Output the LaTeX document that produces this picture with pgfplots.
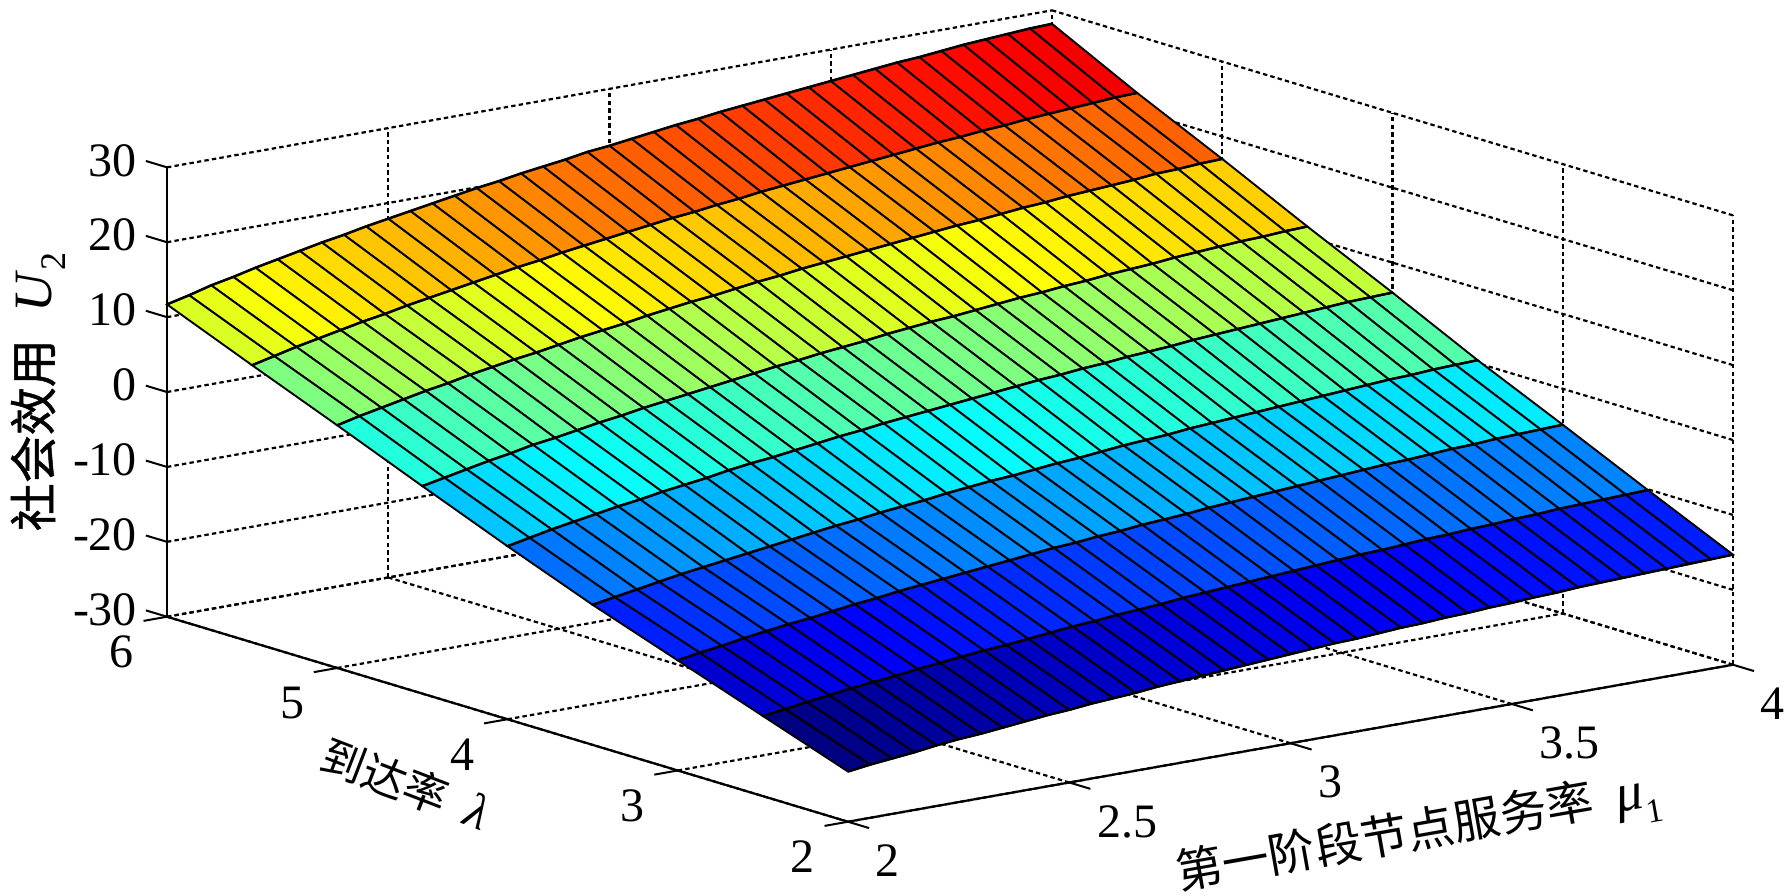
\documentclass[border=0pt]{standalone}
\usepackage{fontspec}
\setmainfont{Liberation Serif}
\newfontfamily\cjk{Noto Sans CJK SC}
\newfontfamily\cjkb[FakeBold=1]{Noto Sans CJK SC}
\usepackage{pgfplots}
\usepackage{pgfplotstable}
\pgfplotsset{compat=1.18}
\pgfplotstableread[row sep=\\]{
x y z\\
2 2 -23.3\\2.05 2 -22.9\\2.1 2 -22.6\\2.15 2 -22.3\\2.2 2 -21.9\\2.25 2 -21.6\\2.3 2 -21.4\\2.35 2 -21.1\\2.4 2 -20.8\\2.45 2 -20.5\\2.5 2 -20.3\\2.55 2 -20.0\\2.6 2 -19.8\\2.65 2 -19.6\\2.7 2 -19.3\\2.75 2 -19.1\\2.8 2 -18.9\\2.85 2 -18.7\\2.9 2 -18.5\\2.95 2 -18.3\\3 2 -18.1\\3.05 2 -17.9\\3.1 2 -17.7\\3.15 2 -17.6\\3.2 2 -17.4\\3.25 2 -17.2\\3.3 2 -17.1\\3.35 2 -16.9\\3.4 2 -16.8\\3.45 2 -16.6\\3.5 2 -16.5\\3.55 2 -16.3\\3.6 2 -16.2\\3.65 2 -16.0\\3.7 2 -15.9\\3.75 2 -15.8\\3.8 2 -15.7\\3.85 2 -15.6\\3.9 2 -15.5\\3.95 2 -15.4\\4 2 -15.3\\
2 2.5 -19.3\\2.05 2.5 -18.9\\2.1 2.5 -18.5\\2.15 2.5 -18.1\\2.2 2.5 -17.7\\2.25 2.5 -17.4\\2.3 2.5 -17.1\\2.35 2.5 -16.7\\2.4 2.5 -16.4\\2.45 2.5 -16.1\\2.5 2.5 -15.8\\2.55 2.5 -15.6\\2.6 2.5 -15.3\\2.65 2.5 -15.0\\2.7 2.5 -14.7\\2.75 2.5 -14.5\\2.8 2.5 -14.2\\2.85 2.5 -14.0\\2.9 2.5 -13.8\\2.95 2.5 -13.5\\3 2.5 -13.3\\3.05 2.5 -13.1\\3.1 2.5 -12.9\\3.15 2.5 -12.7\\3.2 2.5 -12.5\\3.25 2.5 -12.3\\3.3 2.5 -12.1\\3.35 2.5 -11.9\\3.4 2.5 -11.8\\3.45 2.5 -11.6\\3.5 2.5 -11.4\\3.55 2.5 -11.3\\3.6 2.5 -11.1\\3.65 2.5 -11.0\\3.7 2.5 -10.8\\3.75 2.5 -10.7\\3.8 2.5 -10.5\\3.85 2.5 -10.4\\3.9 2.5 -10.3\\3.95 2.5 -10.2\\4 2.5 -10.1\\
2 3 -15.3\\2.05 3 -14.8\\2.1 3 -14.4\\2.15 3 -13.9\\2.2 3 -13.5\\2.25 3 -13.1\\2.3 3 -12.8\\2.35 3 -12.4\\2.4 3 -12.0\\2.45 3 -11.7\\2.5 3 -11.3\\2.55 3 -11.0\\2.6 3 -10.7\\2.65 3 -10.4\\2.7 3 -10.1\\2.75 3 -9.8\\2.8 3 -9.5\\2.85 3 -9.2\\2.9 3 -9.0\\2.95 3 -8.7\\3 3 -8.5\\3.05 3 -8.2\\3.1 3 -8.0\\3.15 3 -7.8\\3.2 3 -7.5\\3.25 3 -7.3\\3.3 3 -7.1\\3.35 3 -6.9\\3.4 3 -6.7\\3.45 3 -6.5\\3.5 3 -6.3\\3.55 3 -6.1\\3.6 3 -5.9\\3.65 3 -5.8\\3.7 3 -5.6\\3.75 3 -5.4\\3.8 3 -5.3\\3.85 3 -5.1\\3.9 3 -5.0\\3.95 3 -4.9\\4 3 -4.8\\
2 3.5 -11.3\\2.05 3.5 -10.8\\2.1 3.5 -10.3\\2.15 3.5 -9.8\\2.2 3.5 -9.3\\2.25 3.5 -8.9\\2.3 3.5 -8.5\\2.35 3.5 -8.1\\2.4 3.5 -7.7\\2.45 3.5 -7.3\\2.5 3.5 -6.9\\2.55 3.5 -6.5\\2.6 3.5 -6.2\\2.65 3.5 -5.8\\2.7 3.5 -5.5\\2.75 3.5 -5.2\\2.8 3.5 -4.8\\2.85 3.5 -4.5\\2.9 3.5 -4.2\\2.95 3.5 -4.0\\3 3.5 -3.7\\3.05 3.5 -3.4\\3.1 3.5 -3.2\\3.15 3.5 -2.9\\3.2 3.5 -2.6\\3.25 3.5 -2.4\\3.3 3.5 -2.2\\3.35 3.5 -1.9\\3.4 3.5 -1.7\\3.45 3.5 -1.5\\3.5 3.5 -1.3\\3.55 3.5 -1.1\\3.6 3.5 -0.9\\3.65 3.5 -0.7\\3.7 3.5 -0.5\\3.75 3.5 -0.3\\3.8 3.5 -0.1\\3.85 3.5 0.0\\3.9 3.5 0.2\\3.95 3.5 0.3\\4 3.5 0.4\\
2 4 -6.9\\2.05 4 -6.3\\2.1 4 -5.7\\2.15 4 -5.2\\2.2 4 -4.7\\2.25 4 -4.2\\2.3 4 -3.8\\2.35 4 -3.3\\2.4 4 -2.9\\2.45 4 -2.5\\2.5 4 -2.0\\2.55 4 -1.6\\2.6 4 -1.3\\2.65 4 -0.9\\2.7 4 -0.5\\2.75 4 -0.1\\2.8 4 0.2\\2.85 4 0.6\\2.9 4 0.9\\2.95 4 1.2\\3 4 1.5\\3.05 4 1.8\\3.1 4 2.1\\3.15 4 2.4\\3.2 4 2.7\\3.25 4 2.9\\3.3 4 3.2\\3.35 4 3.4\\3.4 4 3.7\\3.45 4 3.9\\3.5 4 4.1\\3.55 4 4.4\\3.6 4 4.6\\3.65 4 4.8\\3.7 4 5.0\\3.75 4 5.2\\3.8 4 5.4\\3.85 4 5.6\\3.9 4 5.8\\3.95 4 5.9\\4 4 6.0\\
2 4.5 -2.3\\2.05 4.5 -1.7\\2.1 4.5 -1.1\\2.15 4.5 -0.5\\2.2 4.5 0.0\\2.25 4.5 0.6\\2.3 4.5 1.0\\2.35 4.5 1.5\\2.4 4.5 2.0\\2.45 4.5 2.4\\2.5 4.5 2.9\\2.55 4.5 3.3\\2.6 4.5 3.7\\2.65 4.5 4.1\\2.7 4.5 4.5\\2.75 4.5 4.9\\2.8 4.5 5.3\\2.85 4.5 5.6\\2.9 4.5 6.0\\2.95 4.5 6.3\\3 4.5 6.6\\3.05 4.5 7.0\\3.1 4.5 7.3\\3.15 4.5 7.6\\3.2 4.5 7.8\\3.25 4.5 8.1\\3.3 4.5 8.4\\3.35 4.5 8.7\\3.4 4.5 8.9\\3.45 4.5 9.2\\3.5 4.5 9.4\\3.55 4.5 9.7\\3.6 4.5 9.9\\3.65 4.5 10.1\\3.7 4.5 10.4\\3.75 4.5 10.6\\3.8 4.5 10.8\\3.85 4.5 11.0\\3.9 4.5 11.1\\3.95 4.5 11.3\\4 4.5 11.4\\
2 5 2.4\\2.05 5 3.1\\2.1 5 3.7\\2.15 5 4.3\\2.2 5 4.9\\2.25 5 5.4\\2.3 5 6.0\\2.35 5 6.5\\2.4 5 7.0\\2.45 5 7.4\\2.5 5 7.9\\2.55 5 8.4\\2.6 5 8.8\\2.65 5 9.2\\2.7 5 9.7\\2.75 5 10.1\\2.8 5 10.5\\2.85 5 10.8\\2.9 5 11.2\\2.95 5 11.6\\3 5 11.9\\3.05 5 12.3\\3.1 5 12.6\\3.15 5 12.9\\3.2 5 13.2\\3.25 5 13.5\\3.3 5 13.8\\3.35 5 14.1\\3.4 5 14.4\\3.45 5 14.6\\3.5 5 14.9\\3.55 5 15.2\\3.6 5 15.4\\3.65 5 15.7\\3.7 5 15.9\\3.75 5 16.1\\3.8 5 16.3\\3.85 5 16.6\\3.9 5 16.7\\3.95 5 16.9\\4 5 17.0\\
2 5.5 7.0\\2.05 5.5 7.7\\2.1 5.5 8.4\\2.15 5.5 9.0\\2.2 5.5 9.6\\2.25 5.5 10.2\\2.3 5.5 10.7\\2.35 5.5 11.3\\2.4 5.5 11.8\\2.45 5.5 12.3\\2.5 5.5 12.8\\2.55 5.5 13.3\\2.6 5.5 13.8\\2.65 5.5 14.2\\2.7 5.5 14.7\\2.75 5.5 15.1\\2.8 5.5 15.5\\2.85 5.5 15.9\\2.9 5.5 16.3\\2.95 5.5 16.7\\3 5.5 17.0\\3.05 5.5 17.4\\3.1 5.5 17.7\\3.15 5.5 18.1\\3.2 5.5 18.4\\3.25 5.5 18.7\\3.3 5.5 19.0\\3.35 5.5 19.3\\3.4 5.5 19.6\\3.45 5.5 19.9\\3.5 5.5 20.2\\3.55 5.5 20.5\\3.6 5.5 20.7\\3.65 5.5 21.0\\3.7 5.5 21.2\\3.75 5.5 21.5\\3.8 5.5 21.7\\3.85 5.5 21.9\\3.9 5.5 22.1\\3.95 5.5 22.3\\4 5.5 22.4\\
2 6 11.7\\2.05 6 12.4\\2.1 6 13.2\\2.15 6 13.8\\2.2 6 14.5\\2.25 6 15.1\\2.3 6 15.7\\2.35 6 16.3\\2.4 6 16.8\\2.45 6 17.4\\2.5 6 17.9\\2.55 6 18.4\\2.6 6 18.9\\2.65 6 19.4\\2.7 6 19.9\\2.75 6 20.3\\2.8 6 20.8\\2.85 6 21.2\\2.9 6 21.6\\2.95 6 22.1\\3 6 22.4\\3.05 6 22.8\\3.1 6 23.2\\3.15 6 23.6\\3.2 6 23.9\\3.25 6 24.3\\3.3 6 24.6\\3.35 6 24.9\\3.4 6 25.2\\3.45 6 25.5\\3.5 6 25.8\\3.55 6 26.1\\3.6 6 26.4\\3.65 6 26.7\\3.7 6 26.9\\3.75 6 27.2\\3.8 6 27.5\\3.85 6 27.7\\3.9 6 27.9\\3.95 6 28.1\\4 6 28.2\\
}\surfdata
\begin{document}
\begin{tikzpicture}
\begin{axis}[
  x={(221.25pt,39.25pt)}, y={(-85.125pt,25.625pt)}, z={(0pt,3.745pt)},
  xmin=2,xmax=4,ymin=2,ymax=6,zmin=-30,zmax=30,
  clip=false,
  grid=major,
  grid style={black,line width=1.1pt,dash pattern=on 2.2pt off 1.6pt},
  axis line style={draw=none},
  tick align=outside,
  tick pos=left,
  major tick length=0pt,
  tick style={draw=none},
  xtick={2,2.5,3,3.5,4}, xticklabels={2,2.5,3,3.5,4},
  ytick={2,3,4,5,6}, yticklabels={2,3,4,5,6},
  ztick={-30,-20,-10,0,10,20,30}, zticklabels={-30,-20,-10,0,10,20,30},
  tick label style={font=\fontsize{24}{28}\selectfont,inner sep=0pt,outer sep=0pt},
  xticklabel style={anchor=west,xshift=14pt,yshift=-19.5pt},
  yticklabel style={anchor=center,xshift=-22.5pt,yshift=-17.5pt},
  zticklabel style={anchor=east,xshift=-15pt,yshift=3.5pt},
  colormap/jet,
  point meta min=-23.3, point meta max=28.2,
  xlabel={{\cjk 第一阶段节点服务率}\ \ {\fontsize{27}{27}\selectfont\textit{μ}}\raisebox{-0.35em}{\fontsize{17}{18}\selectfont 1}},
  ylabel={{\cjk 到达率}\ \ {\fontsize{25}{27}\selectfont\textit{λ}}},
  zlabel={{\cjkb 社会效用}\hspace{0.55em}{\fontsize{27}{27}\selectfont\textit{U}}\raisebox{-0.3em}{\fontsize{18}{18}\selectfont 2}},
  xlabel style={at={(axis cs:3.29,2,-45.4)},anchor=center,rotate=10,font=\fontsize{23.5}{27}\selectfont},
  ylabel style={at={(axis cs:1.0,2,-14.5)},anchor=center,rotate=-21,font=\fontsize{22}{27}\selectfont},
  zlabel style={at={(axis cs:0.17,2,46.55)},anchor=center,rotate=0,font=\fontsize{24}{27}\selectfont},
]
\addplot3[surf,shader=flat corner,draw=black,line width=0.95pt,mesh/rows=9,mesh/cols=41] table[x=x,y=y,z=z] {\surfdata};
\pgfplotsinvokeforeach{1.99:2.01,2.49:2.51,2.99:3.01,3.49:3.51,3.99:4.01,4.49:4.51,4.99:5.01,5.49:5.51,5.99:6.01}{
\addplot3[black,line width=1.25pt,no marks,forget plot,restrict y to domain=#1,unbounded coords=discard] table[x=x,y=y,z=z] {\surfdata};
}
\draw[black,line width=1.1pt] (axis cs:2,6,-30) -- (axis cs:2,2,-30) -- (axis cs:4,2,-30);
\draw[black,line width=1.1pt] (axis cs:2,6,-30) -- (axis cs:2,6,30);
\coordinate (xa1) at (axis cs:2,2,-30); \coordinate (xb1) at (axis cs:2,1.876,-30);
\coordinate (xa2) at (axis cs:2.5,2,-30); \coordinate (xb2) at (axis cs:2.5,1.876,-30);
\coordinate (xa3) at (axis cs:3,2,-30); \coordinate (xb3) at (axis cs:3,1.876,-30);
\coordinate (xa4) at (axis cs:3.5,2,-30); \coordinate (xb4) at (axis cs:3.5,1.876,-30);
\coordinate (xa5) at (axis cs:4,2,-30); \coordinate (xb5) at (axis cs:4,1.876,-30);
\coordinate (ya1) at (axis cs:2,2,-30); \coordinate (yb1) at (axis cs:1.947,2,-30);
\coordinate (ya2) at (axis cs:2,3,-30); \coordinate (yb2) at (axis cs:1.947,3,-30);
\coordinate (ya3) at (axis cs:2,4,-30); \coordinate (yb3) at (axis cs:1.947,4,-30);
\coordinate (ya4) at (axis cs:2,5,-30); \coordinate (yb4) at (axis cs:1.947,5,-30);
\coordinate (ya5) at (axis cs:2,6,-30); \coordinate (yb5) at (axis cs:1.947,6,-30);
\coordinate (za1) at (axis cs:2,6,-30); \coordinate (zb1) at (axis cs:2,6.124,-30);
\coordinate (za2) at (axis cs:2,6,-20); \coordinate (zb2) at (axis cs:2,6.124,-20);
\coordinate (za3) at (axis cs:2,6,-10); \coordinate (zb3) at (axis cs:2,6.124,-10);
\coordinate (za4) at (axis cs:2,6,0); \coordinate (zb4) at (axis cs:2,6.124,0);
\coordinate (za5) at (axis cs:2,6,10); \coordinate (zb5) at (axis cs:2,6.124,10);
\coordinate (za6) at (axis cs:2,6,20); \coordinate (zb6) at (axis cs:2,6.124,20);
\coordinate (za7) at (axis cs:2,6,30); \coordinate (zb7) at (axis cs:2,6.124,30);
\coordinate (tl) at (axis cs:0.0836,2,99.8);
\coordinate (br) at (axis cs:4.1266,2,-62.16);
\end{axis}
\draw[black,line width=1pt] (xa1)--(xb1) (xa2)--(xb2) (xa3)--(xb3) (xa4)--(xb4) (xa5)--(xb5);
\draw[black,line width=1pt] (ya1)--(yb1) (ya2)--(yb2) (ya3)--(yb3) (ya4)--(yb4) (ya5)--(yb5);
\draw[black,line width=1pt] (za1)--(zb1) (za2)--(zb2) (za3)--(zb3) (za4)--(zb4) (za5)--(zb5) (za6)--(zb6) (za7)--(zb7);
\pgfresetboundingbox
\path[use as bounding box] (tl) rectangle (br);
\end{tikzpicture}
\end{document}
